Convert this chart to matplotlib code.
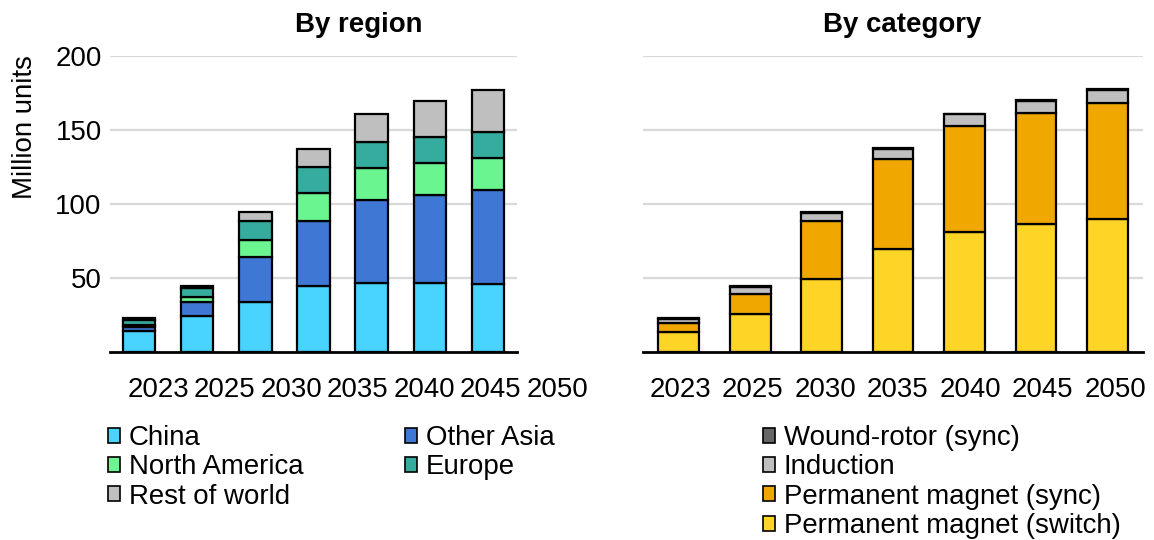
import matplotlib
matplotlib.use("Agg")
import matplotlib.pyplot as plt
import numpy as np
from matplotlib.patches import Patch

plt.rcParams['font.family'] = ['Liberation Sans', 'DejaVu Sans']

years = ["2023", "2025", "2030", "2035", "2040", "2045", "2050"]

# By region (million units)
region_names = ["China", "Other Asia", "North America", "Europe", "Rest of world"]
china = [14.2, 24.0, 34.0, 44.5, 46.8, 46.8, 46.1]
other_asia = [2.5, 10.0, 30.0, 44.3, 56.0, 59.2, 63.2]
north_america = [1.8, 3.2, 12.0, 18.7, 21.4, 21.6, 22.1]
europe = [3.0, 5.8, 12.4, 17.4, 17.7, 17.4, 17.0]
rest_of_world = [1.2, 1.5, 6.0, 12.4, 18.7, 24.6, 28.7]
region_colors = ["#48D4FF", "#3E78D4", "#6AF590", "#36AC9E", "#BFBFBF"]

# By category (million units)
category_names = ["Permanent magnet (switch)", "Permanent magnet (sync)", "Induction", "Wound-rotor (sync)"]
pm_switch = [13.7, 25.8, 49.5, 69.4, 81.3, 86.3, 89.7]
pm_sync = [5.7, 13.7, 39.1, 60.7, 71.4, 74.9, 78.8]
induction = [3.0, 4.3, 5.2, 7.0, 8.1, 8.6, 8.6]
wound_rotor = [0.4, 0.6, 0.6, 0.4, 0.3, 0.6, 0.4]
category_colors = ["#FED426", "#F0A800", "#BFBFBF", "#666666"]

yticks = [50, 100, 150, 200]

FS = 19.9
W, H = 1154, 540
fig = plt.figure(figsize=(W / 100, H / 100), dpi=100)

ax1 = fig.add_axes([110 / W, 1 - 352 / H, 407 / W, (352 - 56) / H])
ax2 = fig.add_axes([643 / W, 1 - 352 / H, 500 / W, (352 - 56) / H])
# axes carrying the year labels (spaced as in the original)
lab1 = fig.add_axes([124.75 / W, 1 - 352 / H, 465.5 / W, 0.001])
lab2 = fig.add_axes([643.75 / W, 1 - 352 / H, 507.5 / W, 0.001])

def stacked(ax, series, colors, width):
    x = np.arange(len(years))
    bottom = np.zeros(len(years))
    for vals, c in zip(series, colors):
        v = np.array(vals)
        ax.bar(x, v, width=width, bottom=bottom, color=c, edgecolor="black",
               linewidth=1.6, zorder=3)
        bottom += v
    ax.set_xlim(-0.5, len(years) - 0.5)
    ax.set_ylim(0, 200)
    ax.set_xticks(x)
    ax.set_xticklabels([])
    ax.set_yticks(yticks)
    ax.grid(axis="y", color="#D9D9D9", linewidth=1.6, zorder=0)
    for s in ["top", "right", "left"]:
        ax.spines[s].set_visible(False)
    ax.spines["bottom"].set_linewidth(2.0)
    ax.spines["bottom"].set_zorder(4)
    ax.tick_params(axis="both", length=0, labelsize=FS)
    ax.tick_params(axis="y", pad=6)

def labels(ax):
    ax.set_xlim(-0.5, len(years) - 0.5)
    ax.set_xticks(np.arange(len(years)))
    ax.set_xticklabels(years, fontsize=FS)
    ax.set_yticks([])
    ax.patch.set_visible(False)
    for s in ax.spines.values():
        s.set_visible(False)
    ax.tick_params(axis="x", length=0, pad=18)

stacked(ax1, [china, other_asia, north_america, europe, rest_of_world], region_colors, 0.56)
stacked(ax2, [pm_switch, pm_sync, induction, wound_rotor], category_colors, 0.57)
ax2.set_yticklabels([])
labels(lab1)
labels(lab2)

fig.text(25 / W, 1 - 127 / H, "Million units", rotation=90, ha="center", va="center", fontsize=FS)
fig.text(359 / W, 1 - 25 / H, "By region", ha="center", va="center", fontsize=FS, fontweight="bold")
fig.text(902 / W, 1 - 25 / H, "By category", ha="center", va="center", fontsize=FS, fontweight="bold")

def handles(names, colors):
    return [Patch(facecolor=c, edgecolor="black", linewidth=1.2, label=n) for n, c in zip(names, colors)]

# left legend: column-major order
rh = handles(region_names, region_colors)
order = [0, 2, 4, 1, 3]
leg1 = fig.legend([rh[i] for i in order], [region_names[i] for i in order], ncol=2,
                  loc="upper left", bbox_to_anchor=(108 / W, 1 - 425 / H),
                  frameon=False, fontsize=FS, borderpad=0, borderaxespad=0,
                  handlelength=0.45, handleheight=0.45, handletextpad=0.3,
                  labelspacing=0.12, columnspacing=3.67)

ch = handles(category_names, category_colors)
leg2 = fig.legend(ch[::-1], category_names[::-1], ncol=1,
                  loc="upper left", bbox_to_anchor=(763 / W, 1 - 425 / H),
                  frameon=False, fontsize=FS, borderpad=0, borderaxespad=0,
                  handlelength=0.45, handleheight=0.45, handletextpad=0.3,
                  labelspacing=0.12)

fig.savefig("out.png", dpi=100)
